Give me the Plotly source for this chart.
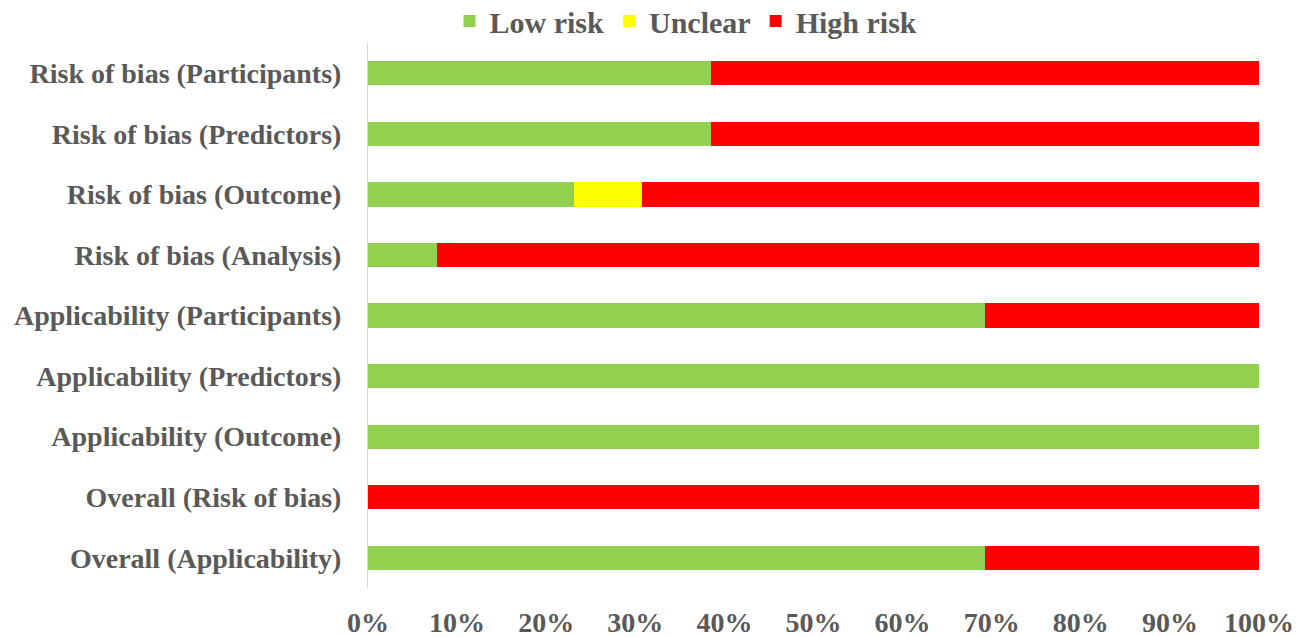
import plotly.graph_objects as go

domains = [
    "Risk of bias (Participants)",
    "Risk of bias (Predictors)",
    "Risk of bias (Outcome)",
    "Risk of bias (Analysis)",
    "Applicability (Participants)",
    "Applicability (Predictors)",
    "Applicability (Outcome)",
    "Overall (Risk of bias)",
    "Overall (Applicability)",
]
low_risk = [38.46, 38.46, 23.08, 7.69, 69.23, 100, 100, 0, 69.23]
unclear = [0, 0, 7.69, 0, 0, 0, 0, 0, 0]
high_risk = [61.54, 61.54, 69.23, 92.31, 30.77, 0, 0, 100, 30.77]
tick_vals = [0, 10, 20, 30, 40, 50, 60, 70, 80, 90, 100]
tick_text = [f"{v}%" for v in tick_vals]

FONT = "Liberation Serif"
TXT = "#595959"

fig = go.Figure()
for name, vals, col in [("Low risk", low_risk, "#92D050"),
                        ("Unclear", unclear, "#FFFF00"),
                        ("High risk", high_risk, "#FF0000")]:
    fig.add_trace(go.Bar(name=name, y=domains, x=vals, orientation="h",
                         marker=dict(color=col, line=dict(width=0))))

fig.update_layout(
    barmode="stack",
    bargap=0.6,
    width=1307, height=637,
    margin=dict(l=368, r=48, t=43, b=49, autoexpand=False),
    paper_bgcolor="white", plot_bgcolor="white",
    font=dict(family=FONT, color=TXT, size=22),
    legend=dict(orientation="h", traceorder="normal",
                x=686 / 1307, xref="container", xanchor="center",
                y=1 - 21 / 637, yref="container", yanchor="middle",
                font=dict(family=FONT, size=30, color=TXT, weight="bold"),
                itemclick=False),
    xaxis=dict(range=[0, 100], tickvals=tick_vals, ticktext=tick_text,
               showgrid=False, zeroline=False, showline=False, automargin=False,
               ticks="outside", ticklen=9, tickcolor="rgba(0,0,0,0)",
               tickfont=dict(family=FONT, size=28, color=TXT, weight="bold")),
    yaxis=dict(categoryorder="array", categoryarray=domains, autorange="reversed",
               showgrid=False, zeroline=False, showline=True, linecolor="#D9D9D9", linewidth=1,
               automargin=False,
               ticks="outside", ticklen=20, tickcolor="rgba(0,0,0,0)",
               tickfont=dict(family=FONT, size=28, color=TXT, weight="bold")),
)

fig.write_html("out.html")
